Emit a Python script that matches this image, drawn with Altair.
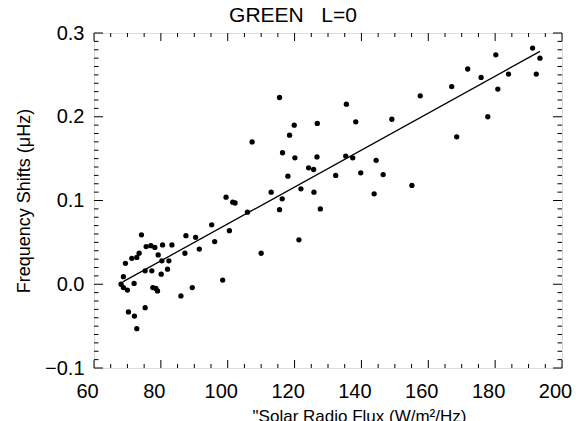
import altair as alt
import pandas as pd

# ---- data ----
flux = [
    115.5, 135.5, 138.3, 119.9, 126.8, 118.5, 107.3, 116.4, 120.1, 126.7,
    135.3, 137.4, 144.4, 124.2, 125.7, 118.0, 132.3, 139.8, 113.0, 121.9,
    125.8, 116.3, 115.5, 127.7, 143.8, 99.5, 101.5, 102.2, 105.9, 95.2,
    100.5, 87.5, 90.4, 96.1, 91.5, 87.2, 110.0, 121.3, 98.5,
    191.2, 193.4, 180.2, 171.8, 175.8, 184.0, 192.3, 180.8, 167.0, 157.6,
    177.8, 149.1, 168.5, 146.5, 155.1,
    74.2, 69.4, 71.3, 72.8, 73.5, 75.6, 77.0, 78.2, 80.5, 83.3,
    79.2, 80.3, 82.4, 75.3, 77.3, 80.1, 82.0, 68.8, 72.0, 68.1,
    68.8, 70.0, 77.6, 78.5, 79.0, 86.0, 70.3, 72.1, 75.3, 72.8,
    89.4,
]
shift = [
    0.223, 0.215, 0.194, 0.190, 0.192, 0.178, 0.170, 0.157, 0.151, 0.152,
    0.153, 0.151, 0.148, 0.139, 0.137, 0.129, 0.130, 0.133, 0.110, 0.114,
    0.110, 0.102, 0.089, 0.090, 0.108, 0.104, 0.098, 0.097, 0.086, 0.071,
    0.064, 0.058, 0.056, 0.051, 0.042, 0.037, 0.037, 0.053, 0.005,
    0.282, 0.270, 0.274, 0.257, 0.247, 0.251, 0.251, 0.233, 0.236, 0.225,
    0.200, 0.197, 0.176, 0.131, 0.118,
    0.059, 0.025, 0.031, 0.032, 0.037, 0.045, 0.046, 0.044, 0.047, 0.047,
    0.035, 0.028, 0.028, 0.016, 0.016, 0.012, 0.018, 0.009, 0.001, 0.000,
    -0.004, -0.007, -0.004, -0.005, -0.008, -0.014, -0.033, -0.038, -0.028, -0.053,
    -0.004,
]
fit_flux = [68.6, 193.4]
fit_shift = [0.0028, 0.278]

x_major = [60, 80, 100, 120, 140, 160, 180, 200]
x_minor = [65, 70, 75, 85, 90, 95, 105, 110, 115, 125, 130, 135,
           145, 150, 155, 165, 170, 175, 185, 190, 195]
y_major = [-0.1, 0.0, 0.1, 0.2, 0.3]
y_minor = [round(-0.1 + i * 0.01, 2) for i in range(41) if i % 10 != 0]

title_text = "GREEN\u00a0\u00a0\u00a0L=0"
x_title = '"Solar Radio Flux (W/m\u00b2/Hz)'
y_title = "Frequency Shifts (\u03bcHz)"

# ---- layout ----
W, H = 468, 335
FONT = "Liberation Sans"
XMAJ, XMIN = 8, 4
YMAJ, YMIN = 9, 4.5

xscale = alt.Scale(domain=[60, 200], nice=False, zero=False)
yscale = alt.Scale(domain=[-0.1, 0.3], nice=False, zero=False)

xaxis = alt.Axis(values=x_major, format="d", ticks=False, domain=False, grid=False,
                 labelFont=FONT, labelFontSize=20, labelColor="black", labelPadding=13,
                 labelOffset=-7,
                 title=x_title, titleFont=FONT, titleFontSize=17, titleFontWeight="normal",
                 titleColor="black", titlePadding=7, titleX=265, labelFlush=False)
yaxis = alt.Axis(values=y_major, format=".1f", ticks=False, domain=False, grid=False,
                 labelFont=FONT, labelFontSize=20, labelColor="black", labelPadding=10,
                 title=y_title, titleFont=FONT, titleFontSize=18, titleFontWeight="normal",
                 titleColor="black", titlePadding=11, labelFlush=False)

pts = pd.DataFrame({"x": flux, "y": shift})
fit = pd.DataFrame({"x": fit_flux, "y": fit_shift})
xmaj = pd.DataFrame({"x": x_major})
xmin = pd.DataFrame({"x": x_minor})
ymaj = pd.DataFrame({"y": y_major})
ymin = pd.DataFrame({"y": y_minor})

X = alt.X("x:Q", scale=xscale, axis=xaxis)
Y = alt.Y("y:Q", scale=yscale, axis=yaxis)

points = alt.Chart(pts).mark_circle(size=28, color="black", opacity=1).encode(x=X, y=Y)
line = alt.Chart(fit).mark_line(color="black", strokeWidth=1.3).encode(x=X, y=Y)


def xticks(df, length):
    bottom = alt.Chart(df).mark_rule(color="black", strokeWidth=1).encode(
        x=X, y=alt.value(H), y2=alt.value(H - length))
    top = alt.Chart(df).mark_rule(color="black", strokeWidth=1).encode(
        x=X, y=alt.value(0), y2=alt.value(length))
    return [bottom, top]


def yticks(df, length):
    left = alt.Chart(df).mark_rule(color="black", strokeWidth=1).encode(
        y=Y, x=alt.value(0), x2=alt.value(length))
    right = alt.Chart(df).mark_rule(color="black", strokeWidth=1).encode(
        y=Y, x=alt.value(W), x2=alt.value(W - length))
    return [left, right]


layers = [points, line] + xticks(xmaj, XMAJ) + xticks(xmin, XMIN) + yticks(ymaj, YMAJ) + yticks(ymin, YMIN)

chart = alt.layer(*layers).properties(
    width=W, height=H,
    title=alt.TitleParams(title_text, font=FONT, fontSize=21, fontWeight="normal",
                          color="black", dx=-35, dy=11, offset=8, anchor="middle"),
    autosize=alt.AutoSizeParams(type="none"),
    padding={"left": 86, "top": 25, "right": 15, "bottom": 53},
).configure_view(stroke="black", strokeWidth=1).configure(background="white")

chart.save("out.html", embed_options={"renderer": "svg", "actions": False})
